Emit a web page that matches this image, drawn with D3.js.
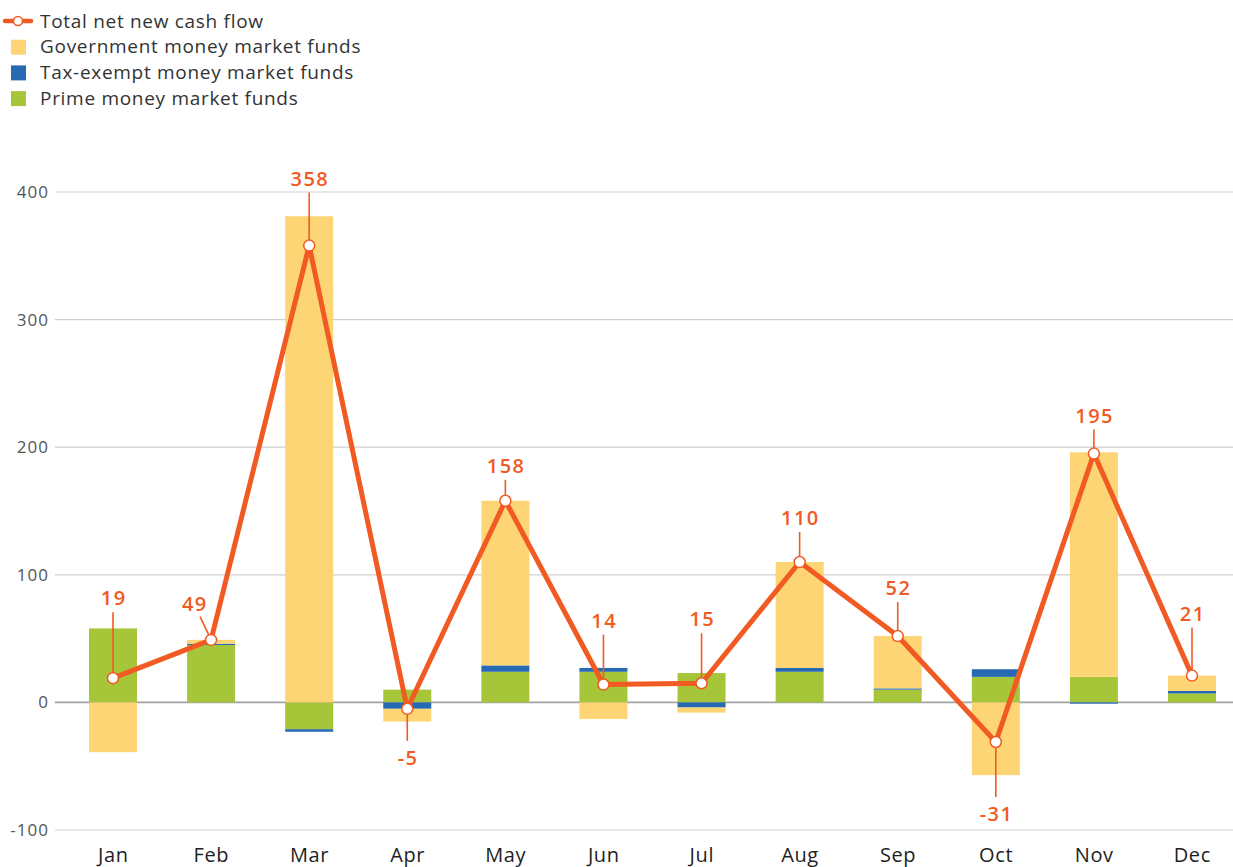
<!DOCTYPE html>
<html>
<head>
<meta charset="utf-8">
<script src="https://cdn.jsdelivr.net/npm/d3@7"></script>
<style>
  html, body { margin: 0; padding: 0; background: #fff; }
  svg { display: block; font-family: "Open Sans", Lato, sans-serif; }
</style>
</head>
<body>
<svg id="chart" width="1233" height="867"></svg>
<script>
// Monthly net new cash flow into money market funds (billions)
const months = ["Jan", "Feb", "Mar", "Apr", "May", "Jun", "Jul", "Aug", "Sep", "Oct", "Nov", "Dec"];
const primeFunds = [58, 45, -21, 10, 24, 24, 23, 24, 10, 20, 20, 7];
const taxExemptFunds = [0, 1, -2, -5, 5, 3, -4, 3, 1, 6, -1, 2];
const governmentFunds = [-39, 3, 381, -10, 129, -13, -4, 83, 41, -57, 176, 12];
const totalFlow = [19, 49, 358, -5, 158, 14, 15, 110, 52, -31, 195, 21];
const yTicks = [-100, 0, 100, 200, 300, 400];

// Label placement for the total callouts, in pixels relative to each point
const labelDx = [0, -17, 0, 0, 0, 0, 0, 0, 0, 0, 0, 0];
const labelDy = [-80, -36, -67, 49, -35, -64, -64, -44, -48, 72, -38, -62];

const colors = {
  government: "#FDD574",
  taxExempt: "#2869B3",
  prime: "#A7C539",
  total: "#F15A22"
};

const svg = d3.select("#chart");

const x = d3.scalePoint().domain(months).range([113, 1192]);
const y = d3.scaleLinear().domain([-100, 400]).range([830, 192]);
const barWidth = 48;

// Gridlines
svg.append("g")
  .selectAll("line")
  .data(yTicks)
  .join("line")
  .attr("x1", 55).attr("x2", 1233)
  .attr("y1", d => y(d)).attr("y2", d => y(d))
  .attr("stroke", d => d === 0 ? "#a3a3a6" : "#cfcfcf")
  .attr("stroke-width", d => d === 0 ? 1.6 : 1.2);

// Y axis labels
svg.append("g")
  .selectAll("text")
  .data(yTicks)
  .join("text")
  .attr("x", 49)
  .attr("y", d => y(d))
  .attr("dy", "0.35em")
  .attr("text-anchor", "end")
  .attr("font-size", 17)
  .attr("letter-spacing", 1)
  .attr("fill", "#555")
  .text(d => d);

// Month labels
svg.append("g")
  .selectAll("text")
  .data(months)
  .join("text")
  .attr("x", d => x(d) + 0.3)
  .attr("y", 855)
  .attr("dy", "0.35em")
  .attr("text-anchor", "middle")
  .attr("font-size", 20)
  .attr("letter-spacing", 0.6)
  .attr("fill", "#1e1e1e")
  .text(d => d);

// Stacked bars: prime at the base, tax-exempt next, government outermost
const rows = months.map((m, i) => ({
  month: m,
  prime: primeFunds[i],
  taxExempt: taxExemptFunds[i],
  government: governmentFunds[i]
}));
const keys = ["prime", "taxExempt", "government"];
const stacked = d3.stack().keys(keys).offset(d3.stackOffsetDiverging)(rows);

svg.append("g")
  .selectAll("g")
  .data(stacked)
  .join("g")
  .attr("fill", s => colors[s.key])
  .selectAll("rect")
  .data(s => s)
  .join("rect")
  .attr("x", d => x(d.data.month) - barWidth / 2)
  .attr("width", barWidth)
  .attr("y", d => y(Math.max(d[0], d[1])))
  .attr("height", d => Math.abs(y(d[0]) - y(d[1])));

// Callout leader lines
const pts = months.map((m, i) => {
  const px = x(m), py = y(totalFlow[i]);
  const lx = px + labelDx[i], ly = py + labelDy[i];
  const vx = px - lx, vy = py - ly;
  const len = Math.hypot(vx, vy);
  const gap = labelDy[i] > 0 ? 17 : 14;
  return { px, py, lx, ly, ex: lx + vx / len * gap, ey: ly + vy / len * gap, v: totalFlow[i] };
});

svg.append("g")
  .selectAll("line")
  .data(pts)
  .join("line")
  .attr("x1", d => d.px).attr("y1", d => d.py)
  .attr("x2", d => d.ex).attr("y2", d => d.ey)
  .attr("stroke", colors.total)
  .attr("stroke-width", 1.6);

// Total line
svg.append("path")
  .datum(months)
  .attr("fill", "none")
  .attr("stroke", colors.total)
  .attr("stroke-width", 5)
  .attr("stroke-linejoin", "round")
  .attr("d", d3.line().x(d => x(d)).y((d, i) => y(totalFlow[i])));

svg.append("g")
  .selectAll("circle")
  .data(pts)
  .join("circle")
  .attr("cx", d => d.px).attr("cy", d => d.py)
  .attr("r", 5.5)
  .attr("fill", "#fff")
  .attr("stroke", colors.total)
  .attr("stroke-width", 1.5);

// Value labels
svg.append("g")
  .selectAll("text")
  .data(pts)
  .join("text")
  .attr("x", d => d.lx + 0.7)
  .attr("y", d => d.ly)
  .attr("dy", "0.35em")
  .attr("text-anchor", "middle")
  .attr("font-size", 20)
  .attr("font-weight", 600)
  .attr("letter-spacing", 1.4)
  .attr("fill", colors.total)
  .text(d => d.v);

// Legend
const legendItems = [
  { label: "Total net new cash flow", type: "line", color: colors.total },
  { label: "Government money market funds", type: "box", color: colors.government },
  { label: "Tax-exempt money market funds", type: "box", color: colors.taxExempt },
  { label: "Prime money market funds", type: "box", color: colors.prime }
];
const legend = svg.append("g");
const item = legend.selectAll("g")
  .data(legendItems)
  .join("g")
  .attr("transform", (d, i) => `translate(0, ${21 + i * 25.7})`);

item.filter(d => d.type === "line").append("line")
  .attr("x1", 5).attr("x2", 31).attr("y1", 0).attr("y2", 0)
  .attr("stroke", d => d.color).attr("stroke-width", 4.5).attr("stroke-linecap", "round");
item.filter(d => d.type === "line").append("circle")
  .attr("cx", 18).attr("cy", 0).attr("r", 4.5)
  .attr("fill", "#fff").attr("stroke", d => d.color).attr("stroke-width", 1.5);
item.filter(d => d.type === "box").append("rect")
  .attr("x", 11).attr("y", -7).attr("width", 15).attr("height", 15)
  .attr("fill", d => d.color);
item.append("text")
  .attr("x", 40).attr("y", 0).attr("dy", "0.35em")
  .attr("font-size", 19)
  .attr("letter-spacing", 0.7)
  .attr("fill", "#333")
  .text(d => d.label);
</script>
</body>
</html>
